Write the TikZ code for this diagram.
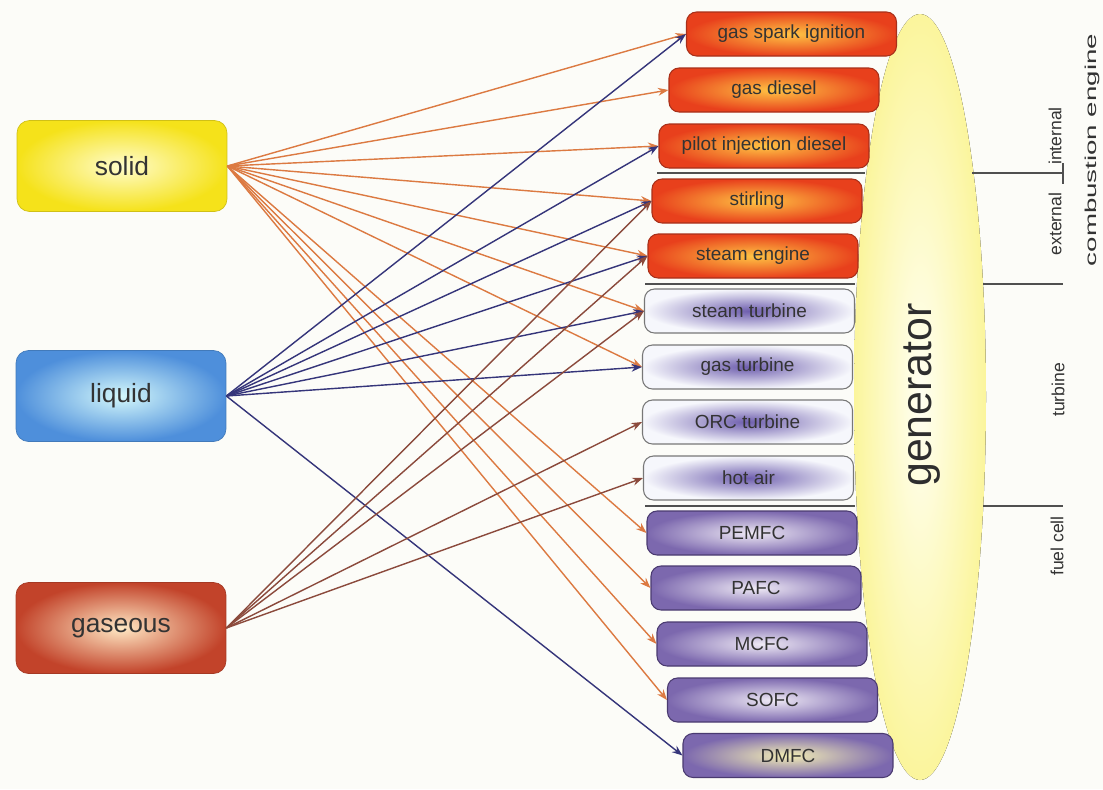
\documentclass[tikz,border=0pt]{standalone}
\usepackage{fontspec}
\setmainfont{Liberation Sans}
\usetikzlibrary{arrows.meta}
\definecolor{bg}{HTML}{FCFCF8}
\definecolor{txt}{HTML}{333333}
\definecolor{icein}{HTML}{FFC444}
\definecolor{iceout}{HTML}{E8401C}
\definecolor{iceb}{HTML}{A8301A}
\definecolor{turin}{HTML}{6E5EAE}
\definecolor{turout}{HTML}{F6F7FC}
\definecolor{turb}{HTML}{777777}
\definecolor{fcin}{HTML}{EFEAF5}
\definecolor{fcout}{HTML}{7C68AE}
\definecolor{fcb}{HTML}{4A3A70}
\definecolor{dmin}{HTML}{F4EFB4}
\definecolor{solin}{HTML}{FFFCCC}
\definecolor{solout}{HTML}{F5E21A}
\definecolor{liqin}{HTML}{D4F8FB}
\definecolor{liqout}{HTML}{4E8FDB}
\definecolor{gasin}{HTML}{FFE8C4}
\definecolor{gasout}{HTML}{C2432A}
\definecolor{genin}{HTML}{FFFFF2}
\definecolor{genout}{HTML}{FBF59C}
\definecolor{sc}{HTML}{DC7A42}
\definecolor{lc}{HTML}{35357A}
\definecolor{gc}{HTML}{8B4A3C}
\definecolor{sepc}{HTML}{505050}
\begin{document}
\begin{tikzpicture}[x=0.02cm,y=-0.02cm,
  box/.style={rounded corners=0.2cm, minimum width=4.2cm, minimum height=0.88cm,
    inner sep=0pt, draw, line width=0.6pt, font=\fontsize{10.8}{12}\selectfont, text=txt},
  ice/.style={box, draw=iceb, inner color=icein, outer color=iceout},
  tur/.style={box, draw=turb, inner color=turin, outer color=turout},
  fc/.style={box, draw=fcb, inner color=fcin, outer color=fcout},
  src/.style={rounded corners=0.25cm, minimum width=4.2cm, minimum height=1.82cm,
    inner sep=0pt, draw, line width=0.4pt, font=\fontsize{15}{18}\selectfont, text=txt},
  conn/.style={line width=0.8pt, -{Stealth[length=6pt,width=4.5pt]}},
  sarr/.style={conn, draw=sc, fill=sc},
  larr/.style={conn, draw=lc, fill=lc},
  garr/.style={conn, draw=gc, fill=gc},
  sepline/.style={line width=1.1pt, draw=sepc},
  side/.style={rotate=90, font=\fontsize{10}{12}\selectfont, text=txt, inner sep=0pt}
]
\fill[bg] (0,0) rectangle (1103,789);
\useasboundingbox (0,0) rectangle (1103,789);

% generator
\fill[inner color=genin, outer color=genout] (920,397) ellipse [x radius=66, y radius=383];
\node[rotate=90, font=\fontsize{24.4}{28}\selectfont, text=txt!90!black] (gen) at (922,395) {generator};

% source boxes
\node[src, draw=solout!85!black, inner color=solin, outer color=solout] (solid) at (122,166) {solid};
\node[src, draw=liqout!85!black, inner color=liqin, outer color=liqout] (liquid) at (121,396) {liquid};
\node[src, draw=gasout!85!black, inner color=gasin, outer color=gasout] (gaseous) at (121,628) {gaseous};

% target boxes
\node[ice] (gsi) at (791.5,34) {gas spark ignition};
\node[ice] (gd) at (774,90) {gas diesel};
\node[ice] (pid) at (764,146) {pilot injection diesel};
\node[ice] (stir) at (757,201) {stirling};
\node[ice] (se) at (753,256) {steam engine};
\node[tur] (st) at (749.5,311) {steam turbine};
\node[tur] (gt) at (747.5,367) {gas turbine};
\node[tur] (orc) at (747.5,422) {ORC turbine};
\node[tur] (ha) at (748.5,478) {hot air};
\node[fc] (pem) at (752,533) {PEMFC};
\node[fc] (paf) at (756,588) {PAFC};
\node[fc] (mcf) at (762,644) {MCFC};
\node[fc] (sof) at (772.5,700) {SOFC};
\node[fc, inner color=dmin] (dmf) at (788,755.5) {DMFC};

% separators between groups
\draw[sepline] (657,173) -- (865,173);
\draw[sepline] (645,284) -- (855,284);
\draw[sepline] (645,506) -- (855,506);
\draw[sepline] (972,173) -- (1063,173);
\draw[sepline] (983,284) -- (1063,284);
\draw[sepline] (983,506) -- (1063,506);
\draw[sepline, line width=0.8pt] (1063,163) -- (1063,184);

% side labels
\node[side] (lint) at (1055,136) {internal};
\node[side] (lext) at (1055,224) {external};
\node[side] (lce) at (1092,150) {\fontsize{9}{11}\selectfont\scalebox{1.75}[1]{combustion engine}};
\node[side] (ltur) at (1058,390) {turbine};
\node[side] (lfc) at (1057,546) {fuel cell};

% solid connectors
\foreach \t in {gsi,gd,pid,stir,se,st,gt,pem,paf,mcf,sof}
  \draw[sarr] (solid.east) -- (\t.west);
% liquid connectors
\foreach \t in {gsi,pid,stir,se,st,gt,dmf}
  \draw[larr] (liquid.east) -- (\t.west);
% gaseous connectors
\foreach \t in {stir,se,st,orc,ha}
  \draw[garr] (gaseous.east) -- (\t.west);
\end{tikzpicture}
\end{document}
